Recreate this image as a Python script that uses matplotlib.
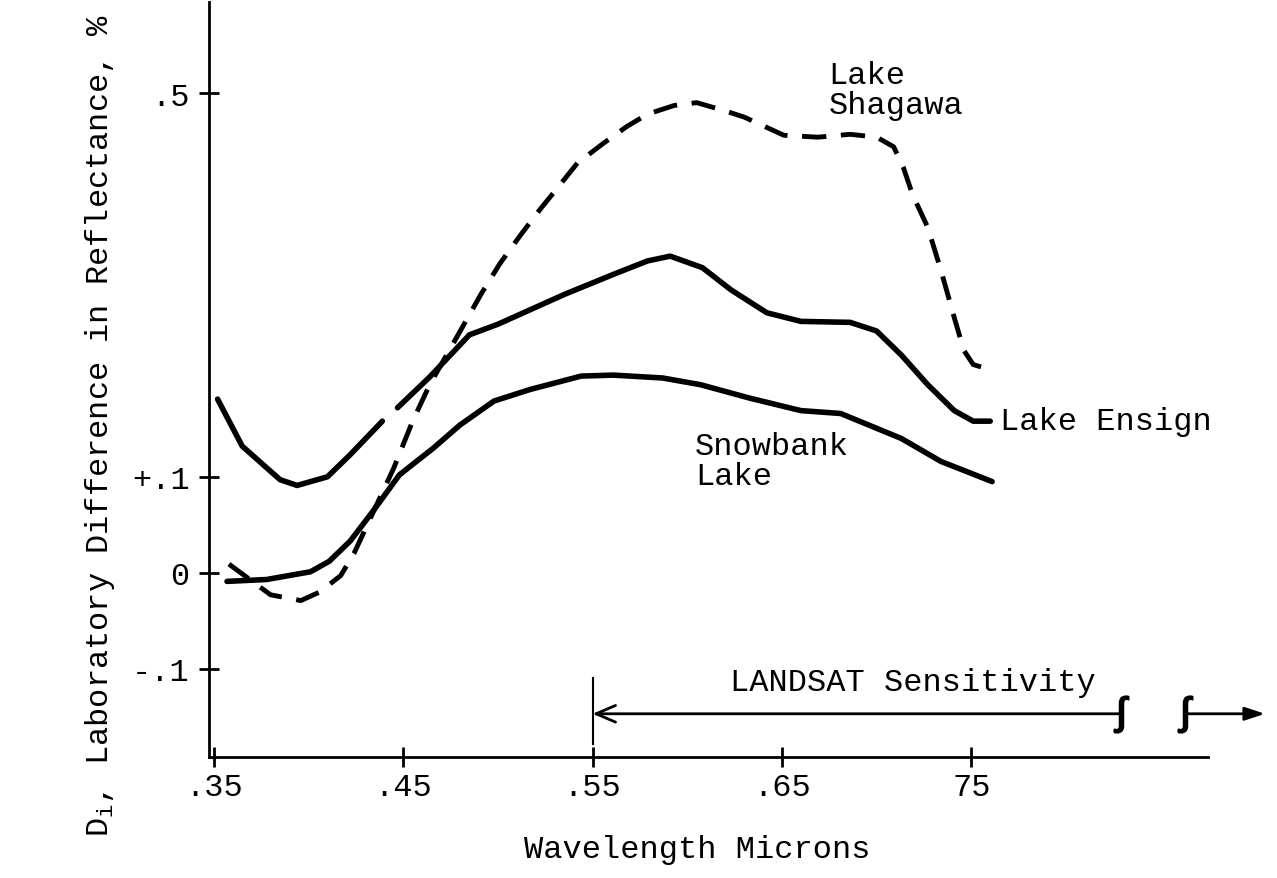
import numpy as np
import matplotlib as mpl
import matplotlib.pyplot as plt
mpl.rcParams['font.family'] = ['Liberation Mono', 'DejaVu Sans Mono']
mpl.rcParams['mathtext.fontset'] = 'custom'
mpl.rcParams['mathtext.rm'] = 'Liberation Mono'

# 曲线数据 (波长, 反射率差)
ensign_x = [0.352, 0.365, 0.385, 0.394, 0.410, 0.422, 0.439, np.nan,
            0.447, 0.464, 0.485, 0.500, 0.535, 0.561, 0.579, 0.591, 0.608,
            0.623, 0.642, 0.660, 0.686, 0.700, 0.713, 0.727, 0.741, 0.751, 0.760]
ensign_y = [0.181, 0.132, 0.097, 0.091, 0.100, 0.123, 0.158, np.nan,
            0.172, 0.204, 0.248, 0.259, 0.290, 0.311, 0.325, 0.330, 0.318,
            0.295, 0.271, 0.262, 0.261, 0.252, 0.227, 0.196, 0.169, 0.158, 0.158]

snowbank_x = [0.357, 0.378, 0.401, 0.411, 0.422, 0.434, 0.448, 0.466, 0.480,
              0.498, 0.517, 0.544, 0.561, 0.587, 0.607, 0.633, 0.660, 0.681,
              0.713, 0.734, 0.761]
snowbank_y = [-0.009, -0.007, 0.001, 0.012, 0.033, 0.064, 0.102, 0.130, 0.154,
              0.179, 0.191, 0.205, 0.206, 0.203, 0.196, 0.182, 0.169, 0.166,
              0.140, 0.116, 0.095]

shagawa_x = [0.358, 0.380, 0.396, 0.406, 0.417, 0.424, 0.445, 0.455, 0.464,
             0.479, 0.491, 0.501, 0.512, 0.522, 0.531, 0.542, 0.556, 0.568,
             0.579, 0.593, 0.605, 0.619, 0.630, 0.651, 0.669, 0.686, 0.700,
             0.709, 0.714, 0.719, 0.727, 0.734, 0.741, 0.746, 0.751, 0.756]
shagawa_y = [0.009, -0.023, -0.029, -0.020, -0.003, 0.020, 0.109, 0.158, 0.196,
             0.248, 0.290, 0.322, 0.352, 0.378, 0.400, 0.427, 0.448, 0.465,
             0.478, 0.487, 0.490, 0.482, 0.475, 0.456, 0.454, 0.457, 0.454,
             0.444, 0.423, 0.394, 0.360, 0.315, 0.266, 0.232, 0.217, 0.214]

xticks = [0.35, 0.45, 0.55, 0.65, 0.75]
xtick_labels = ['.35', '.45', '.55', '.65', '75']
yticks = [0.5, 0.1, 0.0, -0.1]
ytick_labels = ['.5', '+.1', '0', '-.1']

landsat_start = 0.55
landsat_break = 0.829
landsat_resume = 0.863
landsat_end = 0.905
landsat_y = -0.147

fs = 23

fig = plt.figure(figsize=(12.77, 8.79), dpi=100)
ax = fig.add_axes([0.1637, 0.1377, 0.7823, 0.859])

ax.plot(ensign_x, ensign_y, color='black', lw=4, solid_capstyle='round')
ax.plot(snowbank_x, snowbank_y, color='black', lw=4, solid_capstyle='round')
ax.plot(shagawa_x, shagawa_y, color='black', lw=3.5, linestyle=(0, (5, 3)))

ax.set_xlim(0.3475, 0.875)
ax.set_ylim(-0.192, 0.595)
ax.spines['top'].set_visible(False)
ax.spines['right'].set_visible(False)
ax.spines['left'].set_linewidth(2)
ax.spines['bottom'].set_linewidth(2)
ax.set_xticks(xticks)
ax.set_xticklabels(xtick_labels)
ax.set_yticks(yticks)
ax.set_yticklabels(ytick_labels)
ax.tick_params(direction='inout', length=14, width=2, labelsize=fs, pad=4)
ax.tick_params(axis='y', pad=7)

# LANDSAT 灵敏度范围
ax.plot([landsat_start, landsat_start], [-0.110, -0.178], color='black', lw=1.5, clip_on=False)
ax.annotate('', xy=(landsat_start, landsat_y), xytext=(landsat_break, landsat_y),
            arrowprops=dict(arrowstyle='->,head_length=1.4,head_width=0.6', lw=2, color='black',
                            shrinkA=0, shrinkB=0))
ax.annotate('', xy=(landsat_end, landsat_y), xytext=(landsat_resume, landsat_y),
            arrowprops=dict(arrowstyle='-|>,head_length=1.2,head_width=0.4', lw=2, color='black',
                            shrinkA=0, shrinkB=0), annotation_clip=False)
for bx in [landsat_break, landsat_resume]:
    ax.plot([bx], [landsat_y], marker=r'$\int$', ms=26, mew=1.5, color='black', clip_on=False)
ax.text(0.719, -0.114, 'LANDSAT Sensitivity', fontsize=fs, ha='center', va='center')

ax.text(0.6745, 0.534, 'Lake\nShagawa', fontsize=fs, ha='left', va='top', linespacing=1.0)
ax.text(0.765, 0.158, 'Lake Ensign', fontsize=fs, ha='left', va='center')
ax.text(0.604, 0.117, 'Snowbank\nLake', fontsize=fs, ha='left', va='center', linespacing=1.0)

fig.text(697 / 1277, 1 - 850 / 879, 'Wavelength Microns', fontsize=fs, ha='center', va='center')
fig.text(100 / 1277, 1 - 425 / 879, r'D$_\mathregular{i}$, Laboratory Difference in Reflectance, %',
         fontsize=fs, rotation=90, ha='center', va='center')

fig.savefig('out.png', dpi=100)
